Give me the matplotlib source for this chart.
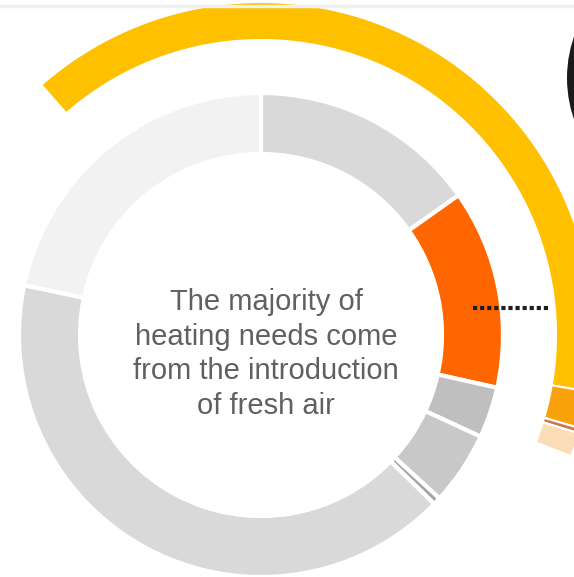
import matplotlib.pyplot as plt
from matplotlib.patches import Circle

# inner ring: share of heating needs (percent, clockwise from top)
inner_values = [15.2, 13.3, 3.4, 4.9, 0.5, 41.0, 21.7]
inner_colors = ["#d9d9d9", "#ff6600", "#bfbfbf", "#c8c8c8", "#a6a6a6", "#d9d9d9", "#f2f2f2"]

# outer ring: partial breakdown (percent of full circle), rest left empty
outer_values = [39.2, 1.8, 0.25, 1.15]
outer_colors = ["#ffc000", "#f9a10a", "#c87a4c", "#fbdcb8"]

center_text = "The majority of\nheating needs come\nfrom the introduction\nof fresh air"

W, H = 574, 577
cx, cy = 261, H - 335

fig = plt.figure(figsize=(W / 100, H / 100), dpi=100)
ax = fig.add_axes([0, 0, 1, 1])

# inner donut
ax.pie(inner_values, colors=inner_colors, center=(cx, cy), radius=242,
       startangle=90, counterclock=False,
       wedgeprops={"width": 61, "edgecolor": "white", "linewidth": 3})

# outer partial ring
blank = 100 - sum(outer_values)
wedges, _ = ax.pie(outer_values + [blank], colors=outer_colors + ["none"],
                   center=(cx, cy), radius=333, startangle=131.3,
                   counterclock=False,
                   wedgeprops={"width": 38, "edgecolor": "white", "linewidth": 1.5})
wedges[-1].set_visible(False)

# dotted leader line
ax.plot([473, 548], [H - 308, H - 308], color="#1f1f1f", lw=3,
        linestyle=(0, (1, 0.7)), solid_capstyle="butt")

# dark circle cut by the right edge
ax.add_patch(Circle((567 + 126, H - 78), 126, facecolor="#1a1a1a", lw=0, zorder=3))

# faint top rule
ax.axhline(H - 5.5, color="#f0f0f0", lw=2.5)

ax.text(266, H - 354, center_text, ha="center", va="center",
        fontsize=21, color="#606060", family="Liberation Sans",
        linespacing=1.29)

ax.set_xlim(0, W)
ax.set_ylim(0, H)
ax.set_aspect("equal")
ax.axis("off")

fig.savefig("out.png", dpi=100, facecolor="white")
